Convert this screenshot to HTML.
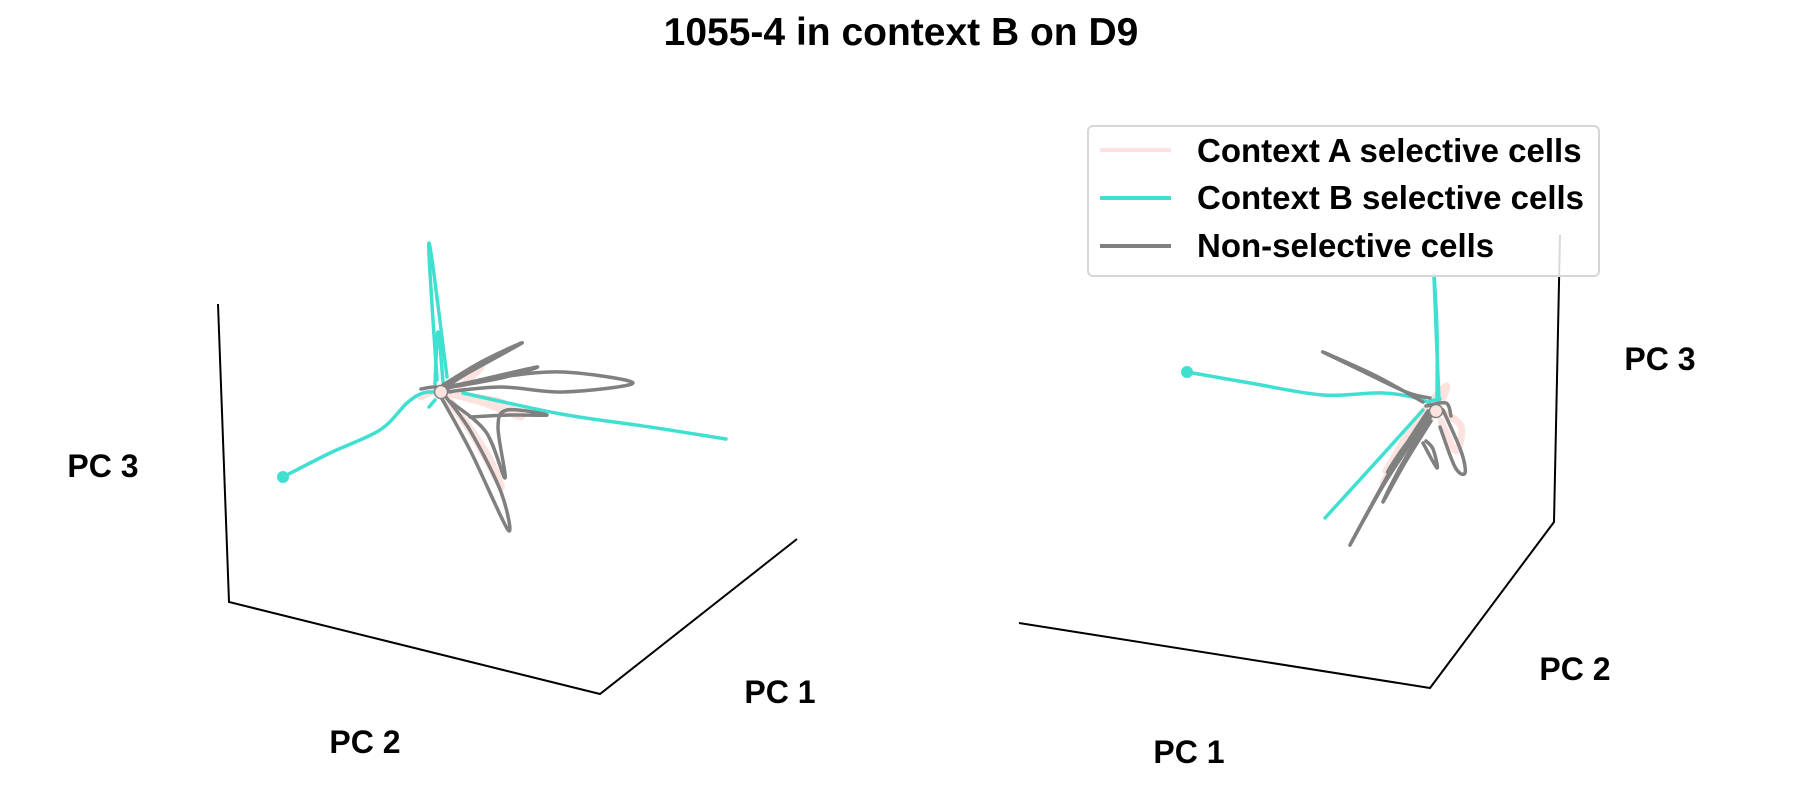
<!DOCTYPE html>
<html><head><meta charset="utf-8"><style>
body{margin:0;background:#fff}
svg{display:block}
text{font-family:"Liberation Sans",sans-serif;font-weight:bold;fill:#000}
</style></head><body>
<svg id="chart" width="1800" height="800" viewBox="0 0 1800 800">
<text x="901" y="45" font-size="39" text-anchor="middle">1055-4 in context B on D9</text>
<g>
<polyline points="218,304 229,602 600,694 797,539" fill="none" stroke="#000" stroke-width="2"/>
<text x="103" y="477" font-size="32" text-anchor="middle">PC 3</text>
<text x="365" y="753" font-size="32" text-anchor="middle">PC 2</text>
<text x="780" y="703" font-size="32" text-anchor="middle">PC 1</text>
<g id="leftPlot"></g>
</g>
<g>
<polyline points="1560,235 1554,522 1430,688 1019,623" fill="none" stroke="#000" stroke-width="2"/>
<text x="1660" y="370" font-size="32" text-anchor="middle">PC 3</text>
<text x="1575" y="680" font-size="32" text-anchor="middle">PC 2</text>
<text x="1189" y="763" font-size="32" text-anchor="middle">PC 1</text>
<g id="rightPlot"></g>
</g>
<g>
<rect x="1088" y="126" width="511" height="150" rx="5" fill="#fff" fill-opacity="0.85" stroke="#d6d6d6" stroke-width="2"/>
<line x1="1100" y1="150" x2="1171" y2="150" stroke="#fde3df" stroke-width="4"/>
<text x="1197" y="162" font-size="33">Context A selective cells</text>
<line x1="1100" y1="198" x2="1171" y2="198" stroke="#40e0d0" stroke-width="4"/>
<text x="1197" y="209" font-size="33">Context B selective cells</text>
<line x1="1100" y1="246" x2="1171" y2="246" stroke="#808080" stroke-width="4"/>
<text x="1197" y="257" font-size="33">Non-selective cells</text>
</g>
</svg>
<script>
// projected trajectory coordinates (relative to each panel's origin point)
const leftA = [[[-20,5],[10,-10],[40,-25],[20,0],[60,10],[80,25],[40,10],[0,0]],[[0,0],[30,40],[60,95],[45,60],[10,10]]];
const leftB = [[[-158,85],[-111,61],[-61,38],[-34,11],[-18,1],[0,0]],[[-4,-12],[-12,-149],[6,-15]],[[-6,-8],[-3,-60],[2,-10]],[[22,1],[120,22],[209,35],[285,47]],[[-12,15],[-6,8]]];
const leftG = [[[2,-7],[40,-30],[81,-49],[20,-15],[0,0]],[[5,-5],[60,-15],[122,-20],[192,-9],[122,0],[60,-5],[5,0]],[[5,-4],[60,-14],[96,-25],[30,-10]],[[29,25],[70,23],[106,23],[66,18],[57,35],[64,86],[45,40],[10,10]],[[0,5],[30,60],[67,138],[60,100],[30,40],[5,5]],[[-20,-3],[-5,-5],[10,0]]];
const rightA = [[[-53,72],[-30,35],[0,0],[10,-25],[-20,10],[-50,60]],[[5,10],[20,40],[25,15],[5,0]]];
const rightB = [[[-249,-39],[-186,-28],[-113,-16],[-53,-18],[-13,-11],[0,0]],[[1,-10],[1,-80],[-2,-134],[3,-10]],[[-13,-1],[-50,40],[-111,107]],[[-6,-10],[4,-12]]];
const rightG = [[[-13,-9],[-60,-35],[-113,-59],[-80,-43],[-30,-19],[-6,-13]],[[-8,0],[-40,50],[-86,134],[-50,70],[-10,10]],[[-5,5],[-35,55],[-53,91],[-30,50],[-5,10]],[[-6,2],[-35,40],[-48,61],[-20,25]],[[7,-1],[25,40],[29,62],[19,56],[4,16]],[[-13,32],[1,57],[-3,38],[-10,30]],[[-10,-5],[10,-8],[15,5]]];
const startLeft = [-158,85], startRight = [-249,-39];

const panels = [
  {id:'leftPlot', ox:441, oy:392, sx:1, sy:1, A:leftA, B:leftB, G:leftG, start:startLeft},
  {id:'rightPlot', ox:1436, oy:411, sx:1, sy:1, A:rightA, B:rightB, G:rightG, start:startRight}
];
function px(p,v){return p.ox+v[0]*p.sx}
function py(p,v){return p.oy+v[1]*p.sy}
function smooth(p,pts){
  const P=pts.map(v=>[px(p,v),py(p,v)]);
  let d='M'+P[0][0]+','+P[0][1];
  for(let i=0;i<P.length-1;i++){
    const p0=P[Math.max(0,i-1)],p1=P[i],p2=P[i+1],p3=P[Math.min(P.length-1,i+2)];
    const c1=[p1[0]+(p2[0]-p0[0])/6,p1[1]+(p2[1]-p0[1])/6];
    const c2=[p2[0]-(p3[0]-p1[0])/6,p2[1]-(p3[1]-p1[1])/6];
    d+=' C'+c1+' '+c2+' '+p2;
  }
  return d;
}
const NS='http://www.w3.org/2000/svg';
panels.forEach(p=>{
  const g=document.getElementById(p.id);
  const groups=[[p.A,'#fde3df',7,'context-a-trajectory'],[p.B,'#40e0d0',3.5,'context-b-trajectory'],[p.G,'#808080',3.5,'non-selective-trajectory']];
  groups.forEach(([arr,col,w,nm])=>{
    arr.forEach(seg=>{
      const el=document.createElementNS(NS,'path');
      el.setAttribute('d',smooth(p,seg));
      el.setAttribute('fill','none');el.setAttribute('stroke',col);
      el.setAttribute('stroke-width',w);el.setAttribute('stroke-linecap','round');el.setAttribute('stroke-linejoin','round');
      
      
      g.appendChild(el);
    });
  });
  const s=document.createElementNS(NS,'circle');
  s.setAttribute('cx',px(p,p.start));s.setAttribute('cy',py(p,p.start));s.setAttribute('r',6);s.setAttribute('fill','#40e0d0');
  
  
  g.appendChild(s);
  const c=document.createElementNS(NS,'circle');
  c.setAttribute('cx',p.ox);c.setAttribute('cy',p.oy);c.setAttribute('r',6.5);c.setAttribute('fill','#fde3df');c.setAttribute('stroke','#808080');c.setAttribute('stroke-width','1.5');
  
  
  g.appendChild(c);
});
</script>
</body></html>
